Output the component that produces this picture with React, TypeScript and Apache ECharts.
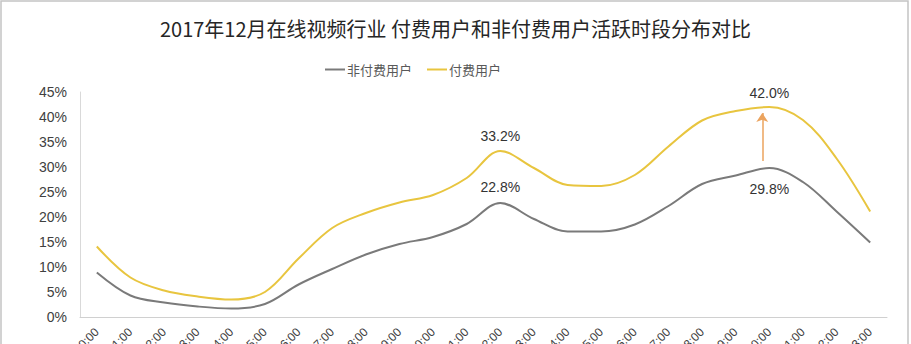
import React, { useEffect, useRef } from "react";
import * as echarts from "echarts";

const hours = [
  "0:00", "1:00", "2:00", "3:00", "4:00", "5:00", "6:00", "7:00", "8:00", "9:00", "10:00", "11:00",
  "12:00", "13:00", "14:00", "15:00", "16:00", "17:00", "18:00", "19:00", "20:00", "21:00", "22:00", "23:00",
];
const nonPaid = [8.9, 4.3, 2.9, 2.1, 1.7, 2.6, 6.5, 9.6, 12.5, 14.6, 16.0, 18.6, 22.8, 19.6, 17.1, 17.1, 18.5, 22.2, 26.6, 28.3, 29.8, 27.0, 21.1, 14.9];
const paid = [14.1, 7.9, 5.3, 4.1, 3.5, 5.0, 11.7, 17.8, 20.8, 22.9, 24.4, 27.8, 33.2, 29.8, 26.4, 26.2, 28.4, 34.1, 39.3, 41.2, 42.0, 39.4, 31.7, 21.1];
const yTicks = { min: 0, max: 45, interval: 5 };
const arrowFrom = [20.29, 31.2];
const arrowTo = [20.29, 40.8];

const title = "2017年12月在线视频行业 付费用户和非付费用户活跃时段分布对比";
const seriesNames = ["非付费用户", "付费用户"];

export default function App() {
  const ref = useRef<HTMLDivElement>(null);
  useEffect(() => {
    if (!ref.current) return;
    const chart = echarts.init(ref.current, undefined, { renderer: "svg" });
    const numFont = "'Liberation Sans', Arial, sans-serif";
    const cjkFont = "'Noto Sans CJK SC', sans-serif";
    const grayData = nonPaid.map((v, i) => {
      if (i === 12) return { value: v, label: { show: true, position: "top", distance: 9 } };
      if (i === 20) return { value: v, label: { show: true, position: "bottom", distance: 14 } };
      return v;
    });
    const yellowData = paid.map((v, i) => {
      if (i === 12) return { value: v, label: { show: true, position: "top", distance: 8 } };
      if (i === 20) return { value: v, label: { show: true, position: "top", distance: 7 } };
      return v;
    });
    const labelBase = {
      show: false,
      formatter: (p: any) => Number(p.value).toFixed(1) + "%",
      fontFamily: numFont,
      fontSize: 14,
      color: "#333333",
    };
    chart.setOption({
      animation: false,
      backgroundColor: "#ffffff",
      title: {
        text: title,
        left: "center",
        top: 13,
        textStyle: { fontFamily: cjkFont, fontSize: 20, fontWeight: "normal", color: "#262626" },
      },
      legend: {
        left: 320,
        top: 58,
        data: seriesNames.map((n) => ({ name: n, icon: "rect" })),
        itemWidth: 20,
        itemHeight: 2,
        itemGap: 15,
        textStyle: { fontFamily: cjkFont, fontSize: 13, color: "#595959", padding: [0, 0, 0, -3] },
      },
      graphic: [
        {
          type: "rect",
          shape: { x: 1, y: 1, width: 907, height: 380 },
          style: { fill: "none", stroke: "#c4c4c4", lineWidth: 1.5 },
          silent: true,
        },
      ],
      grid: { left: 80, right: 24, top: 92, bottom: 27, containLabel: false, outerBoundsMode: "none" },
      xAxis: [
        {
          type: "category",
          data: hours,
          boundaryGap: true,
          axisLine: { lineStyle: { color: "#d0d0d0" } },
          axisTick: { show: false },
          axisLabel: {
            interval: 0,
            rotate: 45,
            margin: 13,
            fontFamily: numFont,
            fontSize: 12,
            color: "#404040",
          },
        },
        { type: "value", min: 0, max: 24, show: false },
      ],
      yAxis: {
        type: "value",
        min: yTicks.min,
        max: yTicks.max,
        interval: yTicks.interval,
        axisLine: { show: true, lineStyle: { color: "#d9d9d9" } },
        axisTick: { show: false },
        splitLine: { show: false },
        axisLabel: {
          formatter: "{value}%",
          margin: 13,
          fontFamily: numFont,
          fontSize: 14,
          color: "#404040",
        },
      },
      series: [
        {
          name: seriesNames[0],
          type: "line",
          data: grayData,
          smooth: 0.35,
          showSymbol: true,
          symbol: "circle",
          symbolSize: 0,
          lineStyle: { color: "#7a7a7a", width: 2 },
          itemStyle: { color: "#7a7a7a" },
          label: labelBase,
        },
        {
          name: seriesNames[1],
          type: "line",
          data: yellowData,
          smooth: 0.35,
          showSymbol: true,
          symbol: "circle",
          symbolSize: 0,
          lineStyle: { color: "#e8c53f", width: 2 },
          itemStyle: { color: "#e8c53f" },
          label: labelBase,
        },
        {
          name: "arrow",
          type: "line",
          xAxisIndex: 1,
          data: [],
          markLine: {
            silent: true,
            symbol: ["none", "arrow"],
            symbolSize: 9,
            label: { show: false },
            lineStyle: { color: "#eba35e", width: 1.5, type: "solid" },
            data: [[{ coord: arrowFrom }, { coord: arrowTo }]],
          },
        },
      ],
    });
    return () => chart.dispose();
  }, []);
  return (
    <div
      ref={ref}
      style={{ position: "fixed", left: 0, top: 0, width: 911, height: 344 }}
    />
  );
}
